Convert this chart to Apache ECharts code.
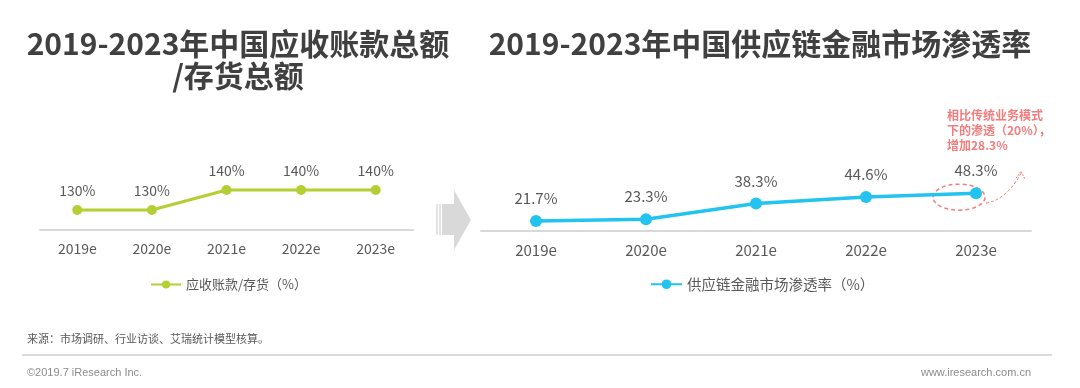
<!DOCTYPE html>
<html><head><meta charset="utf-8">
<script src="https://cdn.jsdelivr.net/npm/echarts@6/dist/echarts.min.js"></script>
<style>html,body{margin:0;padding:0;background:#fff}#c{width:1080px;height:388px}</style>
</head><body><div id="c"></div>
<script>
const categories = ['2019e','2020e','2021e','2022e','2023e'];
const ratioName = '应收账款/存货（%）';
const ratioValues = [130,130,140,140,140];
const penName = '供应链金融市场渗透率（%）';
const penValues = [21.7,23.3,38.3,44.6,48.3];
const leftTitle = '2019-2023年中国应收账款总额\n/存货总额';
const rightTitle = '2019-2023年中国供应链金融市场渗透率';
const noteText = '相比传统业务模式\n下的渗透（20%），\n增加28.3%';
const sourceText = '来源：市场调研、行业访谈、艾瑞统计模型核算。';

const F = '"Noto Sans CJK SC","Noto Sans",sans-serif';
const green = '#B3CF34', cyan = '#22C3EE', red = '#F47C7C';
const chart = echarts.init(document.getElementById('c'), null, {renderer:'canvas'});
const option = {
  animation:false,
  textStyle:{fontFamily:F},
  title:[
    {text:leftTitle, left:233, top:23, textAlign:'center', textStyle:{fontSize:30, fontWeight:'bold', color:'#404040', fontFamily:F, lineHeight:32, align:'center'}},
    {text:rightTitle, left:755, top:23, textAlign:'center', textStyle:{fontSize:30, fontWeight:'bold', color:'#404040', fontFamily:F, lineHeight:32}},
    {text:sourceText, left:22, top:328, textStyle:{fontSize:11, fontWeight:'normal', color:'#595959', fontFamily:F}},
    {text:'©2019.7 iResearch Inc.', left:22, top:362, textStyle:{fontSize:11, fontWeight:'normal', color:'#8c8c8c', fontFamily:'"Liberation Sans",Arial,sans-serif'}},
    {text:'www.iresearch.com.cn', right:44, top:362, textStyle:{fontSize:11, fontWeight:'normal', color:'#8c8c8c', fontFamily:'"Liberation Sans",Arial,sans-serif'}}
  ],
  legend:[
    {data:[ratioName], left:145, top:273, itemWidth:30, itemHeight:10, itemGap:2, textStyle:{fontSize:13, color:'#595959', fontFamily:F}},
    {data:[penName], left:645, top:272, itemWidth:31, itemHeight:12, itemGap:2, textStyle:{fontSize:14.5, color:'#595959', fontFamily:F}}
  ],
  grid:[
    {left:40, right:667, top:170, bottom:158},
    {left:481, right:49, top:181, bottom:157}
  ],
  xAxis:[
    {type:'category', gridIndex:0, data:categories, axisLine:{lineStyle:{color:'#D9D9D9', width:2}}, axisTick:{show:false}, axisLabel:{color:'#595959', fontSize:14, margin:12}},
    {type:'category', gridIndex:1, data:categories, axisLine:{lineStyle:{color:'#D9D9D9', width:2}}, axisTick:{show:false}, axisLabel:{color:'#595959', fontSize:15, margin:12}}
  ],
  yAxis:[
    {type:'value', gridIndex:0, min:120, max:150, show:false, splitLine:{show:false}},
    {type:'value', gridIndex:1, min:12, max:60, show:false, splitLine:{show:false}}
  ],
  series:[
    {name:ratioName, type:'line', xAxisIndex:0, yAxisIndex:0, data:ratioValues, symbol:'circle', symbolSize:10,
     lineStyle:{color:green, width:3}, itemStyle:{color:green},
     label:{show:true, position:'top', distance:7, fontSize:14, color:'#595959', formatter:p=>p.value+'%'}},
    {name:penName, type:'line', xAxisIndex:1, yAxisIndex:1, data:penValues, symbol:'circle', symbolSize:12,
     lineStyle:{color:cyan, width:3.5}, itemStyle:{color:cyan},
     label:{show:true, position:'top', distance:9, fontSize:15, color:'#595959', formatter:p=>p.value+'%'}}
  ]
};
chart.setOption(option);
const pt = chart.convertToPixel({xAxisIndex:1, yAxisIndex:1}, [categories[4], penValues[4]]);
const cx = pt[0]-17, cy = pt[1]+4;
chart.setOption({graphic:[
  {type:'line', shape:{x1:22, y1:355, x2:1052, y2:355}, style:{stroke:'#CFCFCF', lineWidth:1.5}},
  {type:'polygon', shape:{points:[[442,204],[454,204],[454,190],[471,220],[454,250],[454,235],[442,235]]}, style:{fill:'#D9D9D9'}},
  {type:'rect', shape:{x:436, y:204, width:2, height:31}, style:{fill:'#E3E3E3'}},
  {type:'rect', shape:{x:439, y:204, width:2, height:31}, style:{fill:'#E3E3E3'}},
  {type:'ellipse', shape:{cx:cx, cy:cy, rx:26, ry:13}, style:{fill:'none', stroke:red, lineWidth:1.5, lineDash:[4,3]}},
  {type:'bezierCurve', shape:{x1:cx+27, y1:cy+6, cpx1:cx+48, cpy1:cy+2, x2:cx+62, y2:cy-24}, style:{fill:'none', stroke:red, lineWidth:1, lineDash:[3,2]}},
  {type:'polyline', shape:{points:[[cx+57,cy-19],[cx+62,cy-26],[cx+66,cy-18]]}, style:{fill:'none', stroke:red, lineWidth:1, lineDash:[2,1]}},
  {type:'text', left:947, top:108, style:{text:noteText, font:'bold 12px "Noto Sans CJK SC",sans-serif', fill:red, lineHeight:15}}
]});
</script></body></html>
